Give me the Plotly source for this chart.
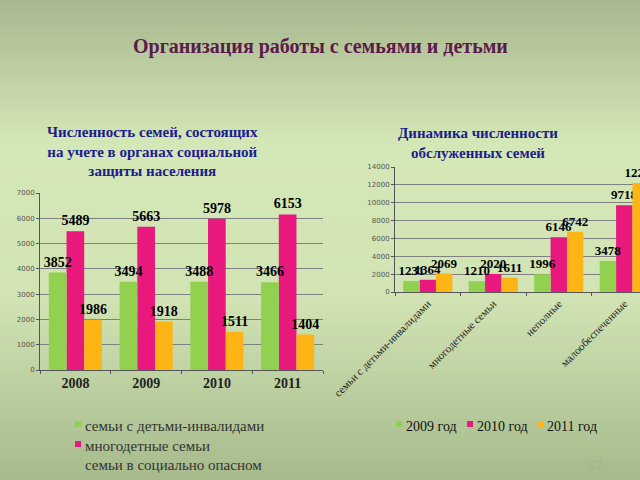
import plotly.graph_objects as go

# ---- data ----
years = ["2008", "2009", "2010", "2011"]
left_disabled = [3852, 3494, 3488, 3466]
left_large = [5489, 5663, 5978, 6153]
left_danger = [1986, 1918, 1511, 1404]
left_names = ["семьи с детьми-инвалидами", "многодетные семьи", "семьи в социально опасном"]

right_cats = ["семьи с детьми-инвалидами", "многодетные семьи", "неполные", "малообеспеченные"]
r2009 = [1231, 1210, 1996, 3478]
r2010 = [1364, 2020, 6146, 9718]
r2011 = [2069, 1611, 6742, 12200]
right_names = ["2009 год", "2010 год", "2011 год"]

GREEN = "#92d050"
PINK = "#e8187c"
YELLOW = "#fdb515"
COLORS = [GREEN, PINK, YELLOW]
SERIF = "Liberation Serif"

fig = go.Figure()

# series styling: (slot offset within group)
slots = [-0.375, -0.125, 0.125]
draw_order = [1, 2, 0]  # pink first, then yellow, green last so labels stay on top

left_series = [left_disabled, left_large, left_danger]
right_series = [r2009, r2010, r2011]

for i in draw_order:
    vals = left_series[i]
    fig.add_trace(go.Bar(
        x=years, y=vals, name=left_names[i], offset=slots[i], width=0.25, showlegend=False,
        marker=dict(color=COLORS[i], line=dict(width=0)),
        text=[str(v) for v in vals], textposition="outside", textangle=0,
        constraintext="none", cliponaxis=False,
        textfont=dict(family=SERIF, size=14, color="black", weight="bold"),
        xaxis="x", yaxis="y"))

for i in draw_order:
    vals = right_series[i]
    fig.add_trace(go.Bar(
        x=right_cats, y=vals, name=right_names[i], offset=slots[i], width=0.25, showlegend=False,
        marker=dict(color=COLORS[i], line=dict(width=0)),
        text=[str(v) for v in vals], textposition="outside", textangle=0,
        constraintext="none", cliponaxis=True,
        textfont=dict(family=SERIF, size=13, color="black", weight="bold"),
        xaxis="x2", yaxis="y2"))

# background gradient
stops = [(0.0, (168, 183, 142)), (0.3, (212, 231, 182)), (0.62, (210, 228, 180)), (1.0, (166, 186, 140))]
def col_at(t):
    for (t0, c0), (t1, c1) in zip(stops[:-1], stops[1:]):
        if t0 <= t <= t1:
            f = (t - t0) / (t1 - t0)
            return "rgb(%d,%d,%d)" % tuple(round(a + (b - a) * f) for a, b in zip(c0, c1))
    return "rgb(%d,%d,%d)" % stops[-1][1]

shapes = []
N = 80
for k in range(N):
    y0 = 1 - k / N
    y1 = 1 - (k + 1) / N
    shapes.append(dict(type="rect", xref="paper", yref="paper", x0=0, x1=1, y0=y1, y1=y0 + 0.002,
                       fillcolor=col_at((k + 0.5) / N), line=dict(width=0), layer="below"))

def px(x):
    return x / 640

def py(y):
    return 1 - y / 480

def note(text, x, y, size, color, family=SERIF, xanchor="center"):
    return dict(text=text, x=px(x), y=py(y), xref="paper", yref="paper", showarrow=False,
                xanchor=xanchor, yanchor="middle", font=dict(family=family, size=size, color=color))

annotations = [
    note("<b>Организация работы с семьями и детьми</b>", 320, 47, 20, "#5c1a4c"),
    note("<b>Численность семей, состоящих<br>на учете в органах социальной<br>защиты населения</b>",
         152, 151, 15, "#1c1c8c"),
    note("<b>Динамика численности<br>обслуженных семей</b>", 478, 143, 15, "#1c1c8c"),
    note("22", 596, 465, 12, "#a3b48e", "Liberation Sans"),
]

# left legend (third swatch is not visible in the original slide)
left_rows = [426, 446, 465]
for i, name in enumerate(left_names):
    annotations.append(note(name, 83, left_rows[i], 15, "#333333", xanchor="left"))
    if i < 2:
        shapes.append(dict(type="rect", xref="paper", yref="paper",
                           x0=px(75), x1=px(81), y0=py(left_rows[i] + 1), y1=py(left_rows[i] - 5),
                           fillcolor=COLORS[i], line=dict(width=0)))

# right legend
right_text_x = [404, 475, 545]
for i, name in enumerate(right_names):
    annotations.append(note(name, right_text_x[i], 426, 14, "#111111", xanchor="left"))
    shapes.append(dict(type="rect", xref="paper", yref="paper",
                       x0=px(right_text_x[i] - 8), x1=px(right_text_x[i] - 2),
                       y0=py(427), y1=py(421), fillcolor=COLORS[i], line=dict(width=0)))

axis_common = dict(type="category", showgrid=False, showline=True, linecolor="#555555", linewidth=1,
                   automargin=False, ticks="outside", ticklen=3, tickcolor="#555555", tickson="boundaries")
yaxis_common = dict(showgrid=True, gridcolor="#808080", gridwidth=1, showline=True, automargin=False,
                    linecolor="#555555", ticks="outside", ticklen=3, tickcolor="#555555",
                    tickformat="d",
                    tickfont=dict(family="DejaVu Sans", size=7, color="#555555"), zeroline=False)

fig.update_layout(
    template="none",
    width=640, height=480, margin=dict(l=0, r=0, t=0, b=0, autoexpand=False),
    paper_bgcolor="#d2e5b3", plot_bgcolor="rgba(0,0,0,0)",
    barmode="overlay", showlegend=False,
    shapes=shapes,
    annotations=annotations,
    xaxis=dict(domain=[40 / 640, 323 / 640], anchor="y", range=[-0.5, 3.5],
               tickfont=dict(family=SERIF, size=14, color="#222222", weight="bold"), **axis_common),
    yaxis=dict(domain=[1 - 370 / 480, 1 - 193 / 480], anchor="x", range=[0, 7000], dtick=1000, **yaxis_common),
    xaxis2=dict(domain=[395 / 640, 1.0], anchor="y2", range=[-0.5, 3.24], tickangle=-45,
                tickfont=dict(family=SERIF, size=11, color="#222222"), **axis_common),
    yaxis2=dict(domain=[1 - 292 / 480, 1 - 167 / 480], anchor="x2", range=[0, 14000], dtick=2000, **yaxis_common),
)

fig.write_html("out.html", config={"displayModeBar": False},
               post_script="document.body.style.margin='0px';")
